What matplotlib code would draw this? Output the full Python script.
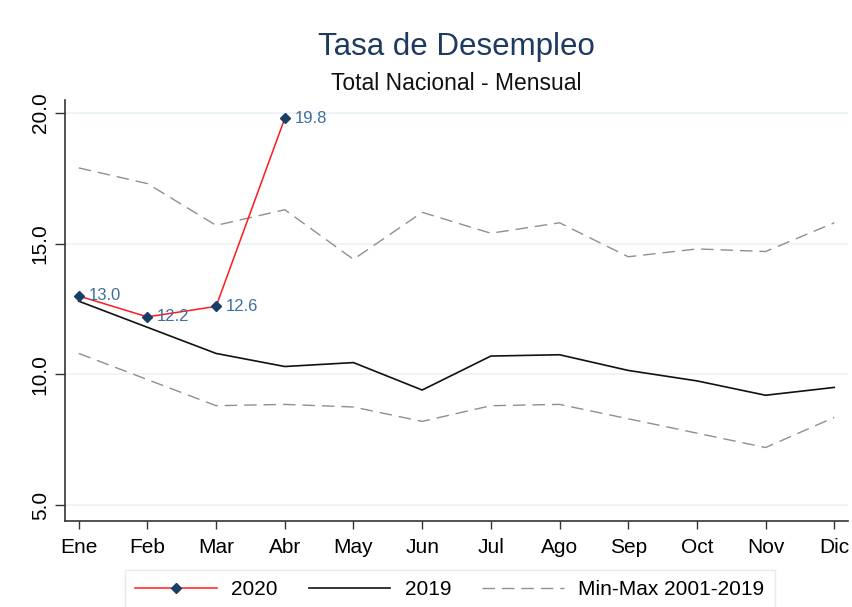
import matplotlib.pyplot as plt

# values
months = ['Ene', 'Feb', 'Mar', 'Abr', 'May', 'Jun',
          'Jul', 'Ago', 'Sep', 'Oct', 'Nov', 'Dic']
rate_2020 = [13.0, 12.2, 12.6, 19.8]
rate_2019 = [12.8, 11.8, 10.8, 10.3, 10.45, 9.4, 10.7, 10.75, 10.15, 9.75, 9.2, 9.5]
max_2001_2019 = [17.9, 17.3, 15.7, 16.3, 14.4, 16.2, 15.4, 15.8, 14.5, 14.8, 14.7, 15.8]
min_2001_2019 = [10.8, 9.8, 8.8, 8.85, 8.75, 8.2, 8.8, 8.85, 8.3, 7.75, 7.2, 8.35]
yticks = [5, 10, 15, 20]

plt.rcParams['font.family'] = ['Liberation Sans', 'DejaVu Sans']

fig = plt.figure(figsize=(8.52, 6.07), dpi=100)
ax = fig.add_axes([0.0763, 0.1422, 0.919, 0.6931])

x = list(range(1, 13))
x20 = x[:len(rate_2020)]

dash_kw = dict(color='#8f8f8f', lw=1.0, dashes=(9, 5))
ax.plot(x, max_2001_2019, label='Min-Max 2001-2019', **dash_kw)
ax.plot(x, min_2001_2019, **dash_kw)
ax.plot(x, rate_2019, color='#111111', lw=1.2, label='2019')
ax.plot(x20, rate_2020, color='#ff1a1a', lw=1.1, marker='D', ms=5.5,
        mfc='#1a3f66', mec='#1a3f66', label='2020')

for xi, v in zip(x20, rate_2020):
    ax.annotate(f'{v:.1f}', (xi, v), xytext=(7, 0), textcoords='offset points',
                va='center', ha='left', fontsize=12, color='#3d6e9c')

ax.set_xlim(0.8, 12.2)
ax.set_ylim(4.4, 20.5)
ax.set_xticks(x)
ax.set_xticklabels(months, fontsize=15)
ax.set_yticks(yticks)
ax.set_yticklabels([f'{t:.1f}' for t in yticks], fontsize=15,
                   rotation=90, va='center')
ax.tick_params(axis='both', direction='out', width=1, color='#333333')
ax.tick_params(axis='x', length=5.4, pad=7)
ax.tick_params(axis='y', length=7, pad=4)
ax.grid(axis='y', color='#eaf2f3', lw=1.2)
ax.set_axisbelow(True)
for side in ('top', 'right'):
    ax.spines[side].set_visible(False)
for side in ('left', 'bottom'):
    ax.spines[side].set_color('#333333')
    ax.spines[side].set_linewidth(1.2)

fig.text(0.536, 0.922, 'Tasa de Desempleo', ha='center', va='center',
         fontsize=22.5, color='#1e3a5f')
fig.text(0.536, 0.862, 'Total Nacional - Mensual', ha='center', va='center',
         fontsize=16.5, color='#111111')

handles, labels = ax.get_legend_handles_labels()
order = [2, 1, 0]
leg = fig.legend([handles[i] for i in order], [labels[i] for i in order],
                 loc='upper center', bbox_to_anchor=(0.528, 0.061), ncol=3,
                 fontsize=15, handlelength=3.9, handletextpad=0.7,
                 columnspacing=1.5, frameon=True, fancybox=False,
                 borderpad=0.5, borderaxespad=0)
leg.get_frame().set_edgecolor('#dde6ea')
leg.get_frame().set_linewidth(1.0)

fig.savefig('out.png', dpi=100)
